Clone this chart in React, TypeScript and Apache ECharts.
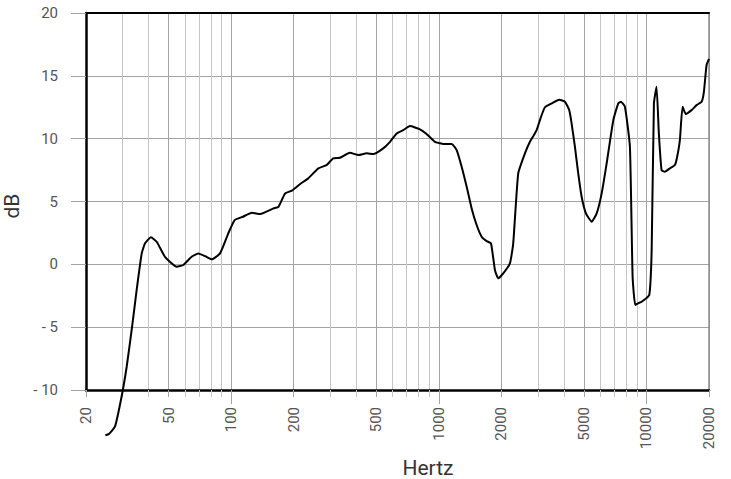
import React, { useEffect, useRef } from "react";
import * as echarts from "echarts";

// Frequency (Hz) of each measured point
const FREQS = [
  24.8, 25.8, 27.6, 29.7, 31.4, 33.2, 35.1, 37.1, 38.5, 41.1, 43.8, 48, 54.7, 58.8, 64.5, 69.5, 75,
  80.6, 88.4, 96.9, 104, 114, 126, 138, 160, 169, 182, 196, 215, 235, 263, 288, 310, 334, 373,
  410, 449, 483, 540, 582, 627, 674, 726, 811, 873, 957, 1013, 1051, 1153, 1219, 1288, 1362, 1439,
  1521, 1608, 1700, 1783, 1863, 1933, 2043, 2200, 2282, 2412, 2598, 2746, 2849, 2957, 3100, 3244,
  3491, 3800, 4048, 4246, 4359, 4522, 4692, 4872, 5110, 5446, 5757, 6085, 6430, 6922, 7314, 7535,
  7874, 8321, 8574, 8825, 9118, 9475, 10310, 10590, 10860, 11180, 11470, 11820, 12260, 12960,
  13700, 14050, 14480, 14920, 15470, 16490, 17430, 18430, 18900, 19470, 20000,
];
// Level (dB) at each frequency
const DB = [
  -13.6, -13.5, -12.9, -10.5, -8.15, -5.2, -2.0, 0.87, 1.67, 2.15, 1.8, 0.6, -0.19, -0.05, 0.6,
  0.87, 0.65, 0.4, 0.87, 2.47, 3.52, 3.79, 4.1, 4.0, 4.45, 4.58, 5.65, 5.86, 6.39, 6.84, 7.64, 7.9,
  8.43, 8.48, 8.88, 8.7, 8.83, 8.77, 9.23, 9.75, 10.42, 10.68, 11.0, 10.74, 10.37, 9.75, 9.63, 9.57,
  9.57, 9.09, 7.77, 6.17, 4.45, 3.13, 2.2, 1.85, 1.67, -0.45, -1.11, -0.72, 0.08, 1.67, 7.24, 8.83,
  9.75, 10.2, 10.68, 11.7, 12.5, 12.8, 13.1, 12.94, 12.27, 11.22, 9.36, 7.24, 5.38, 4.06, 3.39,
  4.06, 5.65, 8.03, 11.48, 12.81, 12.94, 12.54, 9.36, -0.99, -3.24, -3.1, -2.98, -2.44, 1.14,
  12.81, 14.13, 10.42, 7.5, 7.37, 7.64, 7.9, 8.56, 9.89, 12.54, 11.96, 12.27, 12.67, 12.94, 13.73,
  15.86, 16.35,
];

// Vertical grid lines
const GRID_MINOR_HZ = [30, 40, 60, 70, 80, 90, 300, 400, 600, 700, 800, 900, 3000, 4000, 6000, 7000, 8000, 9000];
const GRID_LABELED_HZ = [20, 50, 100, 200, 500, 1000, 2000, 5000, 10000, 20000];
const GRID_DECADE_HZ = [100, 1000, 10000];
const X_MIN_HZ = 20;
const X_MAX_HZ = 20000;
const Y_MIN = -10;
const Y_MAX = 20;
const Y_STEP = 5;

const LABEL_FONT = "'Liberation Sans Narrow', 'Roboto', 'Liberation Sans', sans-serif";

export default function App() {
  const ref = useRef<HTMLDivElement>(null);

  useEffect(() => {
    if (!ref.current) return;
    const chart = echarts.init(ref.current, undefined, { renderer: "svg" });
    const L = (f: number) => Math.log10(f);
    const xMin = L(X_MIN_HZ);
    const xMax = L(X_MAX_HZ);
    const data = FREQS.map((f, i) => [L(f), DB[i]]);

    const baseX = {
      type: "value" as const,
      min: xMin,
      max: xMax,
      gridIndex: 0,
    };

    chart.setOption({
      animation: false,
      backgroundColor: "#ffffff",
      grid: {
        left: 86,
        right: 22,
        top: 13,
        bottom: 89,
        containLabel: false,
        outerBoundsMode: "none",
      },
      xAxis: [
        {
          ...baseX,
          position: "bottom",
          axisLine: { show: true, onZero: false, lineStyle: { color: "#000", width: 2.5 } },
          axisTick: {
            show: true,
            customValues: GRID_MINOR_HZ.map(L),
            length: 7,
            lineStyle: { color: "#c6c6c6", width: 1 },
          },
          axisLabel: { show: false },
          splitLine: { show: true, lineStyle: { color: "#c6c6c6", width: 1 } },
        },
        {
          ...baseX,
          position: "bottom",
          axisLine: { show: false, onZero: false },
          axisTick: {
            show: true,
            customValues: GRID_LABELED_HZ.map(L),
            length: 7,
            lineStyle: { color: "#a4a4a4", width: 1 },
          },
          axisLabel: {
            show: true,
            customValues: GRID_LABELED_HZ.map(L),
            rotate: 90,
            margin: 17,
            fontSize: 15,
            color: "#555",
            fontFamily: LABEL_FONT,
            formatter: (v: number) => String(Math.round(Math.pow(10, v))),
          },
          splitLine: {
            show: true,
            showMinLine: false,
            lineStyle: { color: "#a4a4a4", width: 1 },
          },
          name: "Hertz",
          nameLocation: "middle",
          nameGap: 59,
          nameTextStyle: {
            fontSize: 21,
            color: "#333",
            fontFamily: LABEL_FONT,
            padding: [0, 0, 0, 61],
          },
        },
        {
          ...baseX,
          position: "bottom",
          axisLine: { show: false, onZero: false },
          axisTick: {
            show: true,
            customValues: GRID_DECADE_HZ.map(L),
            length: 14,
            lineStyle: { color: "#a4a4a4", width: 1 },
          },
          axisLabel: { show: false },
          splitLine: { show: false },
        },
        {
          ...baseX,
          position: "top",
          axisLine: { show: true, onZero: false, lineStyle: { color: "#000", width: 2 } },
          axisTick: { show: false },
          axisLabel: { show: false },
          splitLine: { show: false },
        },
      ],
      yAxis: [
        {
          type: "value",
          min: Y_MIN,
          max: Y_MAX,
          interval: Y_STEP,
          position: "left",
          axisLine: { show: true, onZero: false, lineStyle: { color: "#000", width: 2.5 } },
          axisTick: { show: true, length: 15, lineStyle: { color: "#a4a4a4", width: 1 } },
          axisLabel: {
            margin: 28,
            fontSize: 15,
            color: "#555",
            fontFamily: LABEL_FONT,
            formatter: (v: number) => (v < 0 ? "- " + Math.abs(v) : String(v)),
          },
          splitLine: {
            show: true,
            showMinLine: false,
            showMaxLine: false,
            lineStyle: { color: "#a4a4a4", width: 1 },
          },
          name: "dB",
          nameLocation: "middle",
          nameGap: 45,
          nameTextStyle: {
            fontSize: 21,
            color: "#333",
            fontFamily: LABEL_FONT,
            padding: [0, 9, 0, 0],
          },
        },
        {
          type: "value",
          min: Y_MIN,
          max: Y_MAX,
          interval: Y_STEP,
          position: "right",
          axisLine: { show: true, onZero: false, lineStyle: { color: "#8c8c8c", width: 1.5 } },
          axisTick: { show: false },
          axisLabel: { show: false },
          splitLine: { show: false },
        },
      ],
      series: [
        {
          type: "line",
          xAxisIndex: 0,
          yAxisIndex: 0,
          data,
          showSymbol: false,
          symbol: "none",
          clip: false,
          smooth: 0.15,
          lineStyle: { color: "#000", width: 2 },
          z: 5,
        },
      ],
    });
    return () => chart.dispose();
  }, []);

  return (
    <div
      ref={ref}
      style={{ position: "absolute", left: 0, top: 0, width: 731, height: 479 }}
    />
  );
}
